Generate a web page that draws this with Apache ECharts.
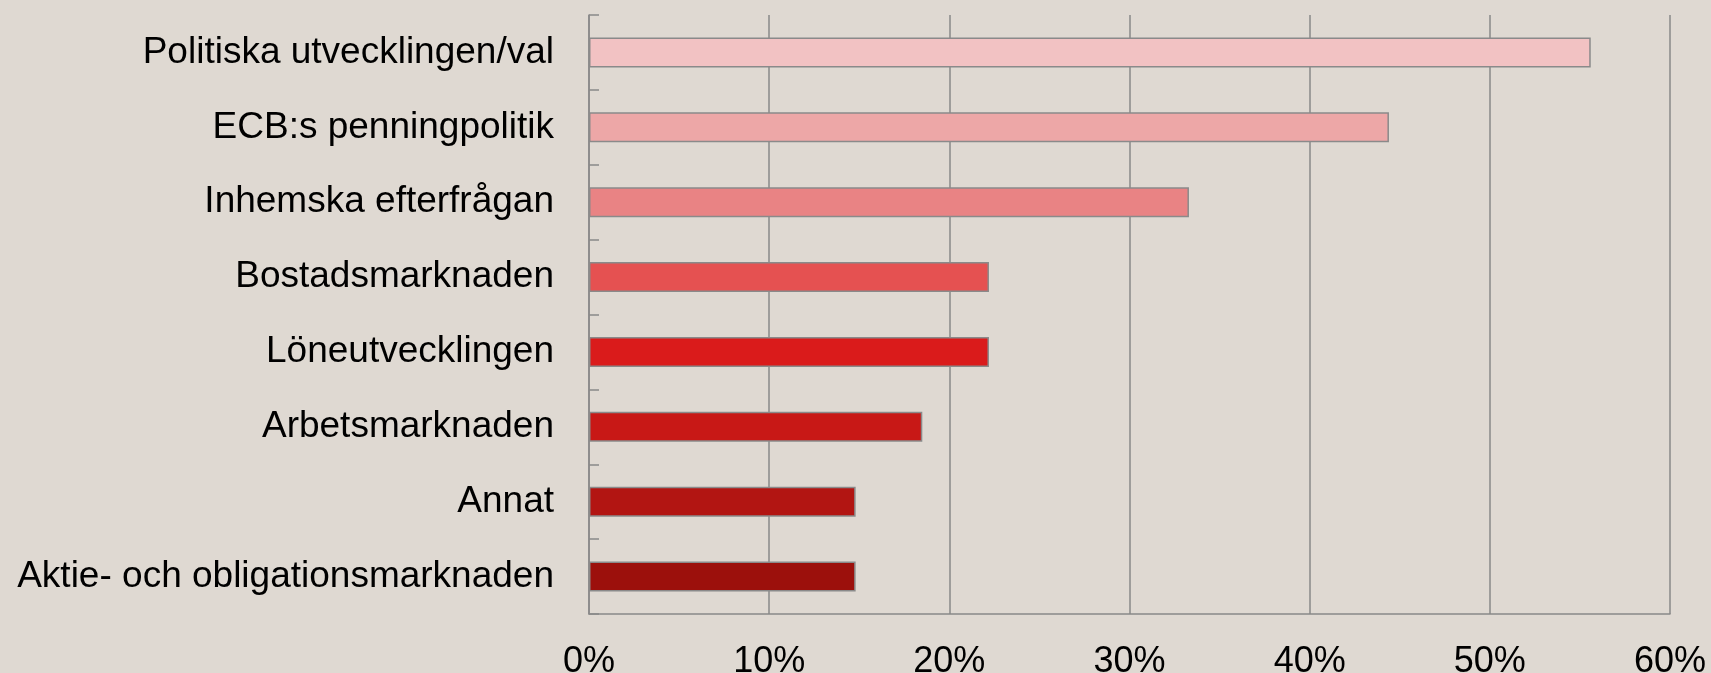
<!DOCTYPE html>
<html>
<head>
<meta charset="utf-8">
<script src="https://cdn.jsdelivr.net/npm/echarts@6/dist/echarts.min.js"></script>
<style>
html,body{margin:0;padding:0;background:#DFD9D2;}
#chart{width:1711px;height:673px;}
</style>
</head>
<body>
<div id="chart"></div>
<script>
const categories = [
  "Politiska utvecklingen/val",
  "ECB:s penningpolitik",
  "Inhemska efterfrågan",
  "Bostadsmarknaden",
  "Löneutvecklingen",
  "Arbetsmarknaden",
  "Annat",
  "Aktie- och obligationsmarknaden"
];
const values = [55.6, 44.4, 33.3, 22.2, 22.2, 18.5, 14.8, 14.8];
const barColors = ["#F2C2C3", "#EDA7A7", "#E98384", "#E55151", "#DA1B1B", "#C81816", "#B21512", "#9C100C"];

const chart = echarts.init(document.getElementById('chart'));
chart.setOption({
  backgroundColor: '#DFD9D2',
  animation: false,
  grid: { left: 589, right: 41, top: 15, bottom: 59, containLabel: false, outerBoundsMode: 'none' },
  xAxis: {
    type: 'value',
    min: 0, max: 60, interval: 10,
    axisLine: { show: true, lineStyle: { color: '#898989', width: 1.5 } },
    axisTick: { show: false },
    splitLine: { show: true, lineStyle: { color: '#898989', width: 1.5 } },
    axisLabel: {
      formatter: '{value}%',
      color: '#000',
      fontFamily: 'Liberation Sans, Arial, sans-serif',
      fontSize: 36,
      margin: 30
    }
  },
  yAxis: {
    type: 'category',
    data: categories,
    inverse: true,
    axisLine: { show: true, lineStyle: { color: '#898989', width: 1.5 } },
    axisTick: { show: true, inside: true, length: 10, lineStyle: { color: '#898989', width: 1.5 } },
    splitLine: { show: false },
    axisLabel: {
      color: '#000',
      fontFamily: 'Liberation Sans, Arial, sans-serif',
      fontSize: 37,
      margin: 35,
      padding: [6, 0, 0, 0]
    }
  },
  series: [{
    type: 'bar',
    barWidth: 30,
    data: values.map((v, i) => ({
      value: v,
      itemStyle: { color: barColors[i], borderColor: '#8a8a8a', borderWidth: 1.5 }
    }))
  }]
});
</script>
</body>
</html>
